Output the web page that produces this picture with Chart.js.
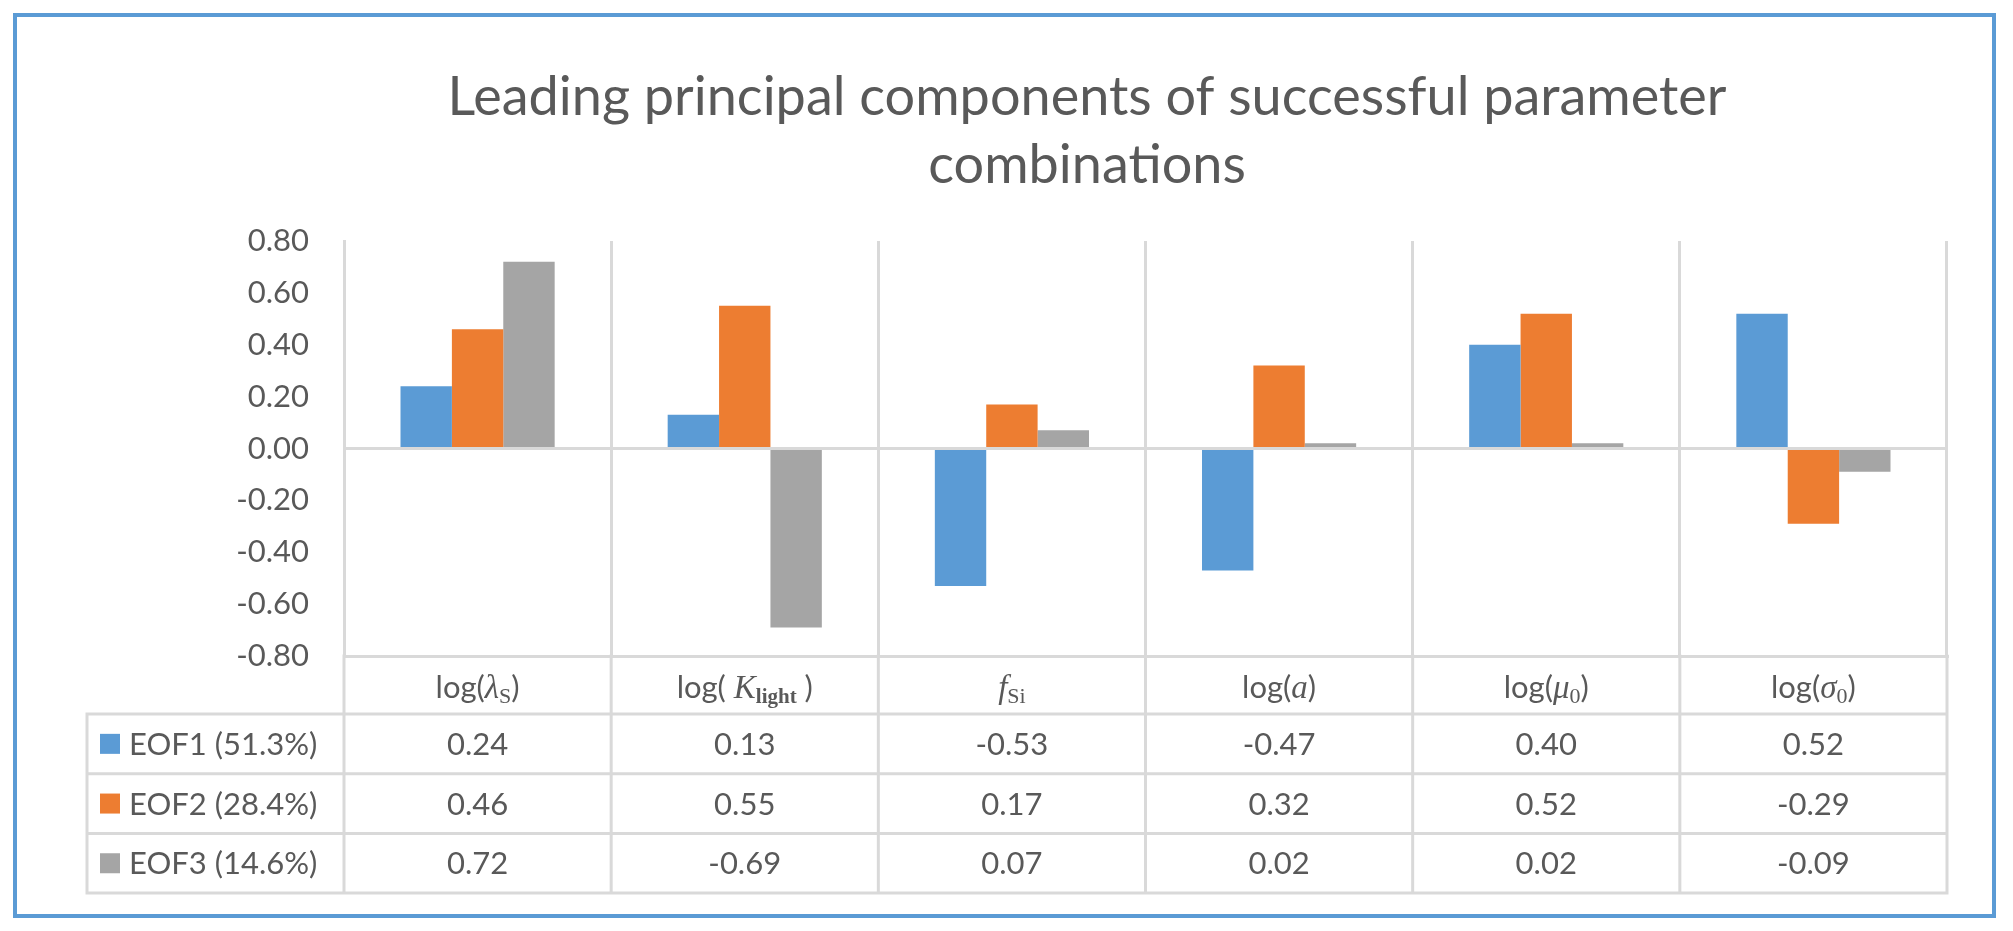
<!DOCTYPE html>
<html>
<head>
<meta charset="utf-8">
<title>Leading principal components of successful parameter combinations</title>
<script src="https://cdn.jsdelivr.net/npm/chart.js@4.4.0/dist/chart.umd.min.js"></script>
<style>
    html, body { margin: 0; padding: 0; background: #fff; }
    #wrap { position: relative; width: 2013px; height: 931px; }
    #frame { position: absolute; left: 13px; top: 13px; width: 1983px; height: 905px;
             box-sizing: border-box; border: 4px solid #5B9BD5; pointer-events: none; }
</style>
</head>
<body>
<div id="wrap">
    <canvas id="pcChart" width="2013" height="931"></canvas>
    <div id="frame"></div>
</div>
<script>
// Parametros (categorias) y cargas de cada EOF
const categories = ['log(λS)', 'log(Klight)', 'fSi', 'log(a)', 'log(μ0)', 'log(σ0)'];
const seriesNames = ['EOF1 (51.3%)', 'EOF2 (28.4%)', 'EOF3 (14.6%)'];
const eof1 = [0.24, 0.13, -0.53, -0.47, 0.40, 0.52];
const eof2 = [0.46, 0.55, 0.17, 0.32, 0.52, -0.29];
const eof3 = [0.72, -0.69, 0.07, 0.02, 0.02, -0.09];
const yMin = -0.8, yMax = 0.8, yStep = 0.2;
const titleLines = ['Leading principal components of successful parameter', 'combinations'];

// Piezas de cada etiqueta de categoria: n = normal, i = cursiva, s = subindice
const labelParts = [
    [['log(', 'n'], ['λ', 'i'], ['S', 's'], [')', 'n']],
    [['log( ', 'n'], ['K', 'i'], ['light', 'sb'], [' )', 'n']],
    [['f', 'i'], ['Si', 's']],
    [['log(', 'n'], ['a', 'i'], [')', 'n']],
    [['log(', 'n'], ['μ', 'i'], ['0', 's'], [')', 'n']],
    [['log(', 'n'], ['σ', 'i'], ['0', 's'], [')', 'n']]
];

const colors = ['#5B9BD5', '#ED7D31', '#A5A5A5'];
const TEXT = '#595959';
const LINE = '#D9D9D9';
const fonts = {
    n: '31px Lato',
    i: 'italic 33px "Liberation Serif"',
    s: '22px "Liberation Serif"',
    sb: 'bold 21px "Liberation Serif"'
};

// Plugin: titulo y tabla de datos debajo del grafico
const dataTable = {
    id: 'dataTable',
    afterDraw(chart) {
        const { ctx, chartArea: ca, scales: { x } } = chart;
        const half = (x.getPixelForValue(1) - x.getPixelForValue(0)) / 2;
        const edges = categories.map((c, i) => x.getPixelForValue(i) - half);
        edges.push(x.getPixelForValue(categories.length - 1) + half);

        const top = ca.bottom;
        const headB = top + 58;
        const rowH = 59.7;
        const bottom = headB + rowH * seriesNames.length;
        const legL = 87;

        ctx.save();
        ctx.strokeStyle = LINE;
        ctx.lineWidth = 3;
        ctx.lineCap = 'square';
        ctx.beginPath();
        edges.forEach(ex => { ctx.moveTo(ex, top); ctx.lineTo(ex, bottom); });
        ctx.moveTo(legL, headB); ctx.lineTo(legL, bottom);
        for (let r = 0; r <= seriesNames.length; r++) {
            const yy = headB + r * rowH;
            ctx.moveTo(legL, yy); ctx.lineTo(ca.right, yy);
        }
        ctx.stroke();

        // etiquetas de categoria
        ctx.fillStyle = TEXT;
        ctx.textBaseline = 'alphabetic';
        ctx.textAlign = 'left';
        const base = top + 42;
        labelParts.forEach((parts, i) => {
            let w = 0;
            parts.forEach(p => { ctx.font = fonts[p[1]]; w += ctx.measureText(p[0]).width; });
            let cx = x.getPixelForValue(i) - w / 2;
            parts.forEach(p => {
                ctx.font = fonts[p[1]];
                const dy = (p[1] === 's' || p[1] === 'sb') ? 5 : 0;
                ctx.fillText(p[0], cx, base + dy);
                cx += ctx.measureText(p[0]).width;
            });
        });

        // filas de valores con clave de leyenda
        const series = [eof1, eof2, eof3];
        ctx.textBaseline = 'middle';
        ctx.font = fonts.n;
        series.forEach((vals, r) => {
            const cy = headB + r * rowH + rowH / 2;
            ctx.fillStyle = colors[r];
            ctx.fillRect(100, cy - 10, 20, 20);
            ctx.fillStyle = TEXT;
            ctx.textAlign = 'left';
            ctx.fillText(seriesNames[r], 129, cy + 1);
            ctx.textAlign = 'center';
            vals.forEach((v, i) => ctx.fillText(v.toFixed(2), x.getPixelForValue(i), cy + 1));
        });

        // titulo (ancho ajustado al de la figura original, ~1280 px)
        ctx.font = '50px Lato';
        const size = Math.round(50 * 1279 / ctx.measureText(titleLines[0]).width);
        ctx.font = size + 'px Lato';
        ctx.textAlign = 'center';
        ctx.textBaseline = 'alphabetic';
        ctx.fillText(titleLines[0], 1087, 115);
        ctx.fillText(titleLines[1], 1087, 183);
        ctx.restore();
    }
};

const chartCtx = document.getElementById('pcChart').getContext('2d');
new Chart(chartCtx, {
    type: 'bar',
    data: {
        labels: categories,
        datasets: [
            { label: seriesNames[0], data: eof1, backgroundColor: colors[0] },
            { label: seriesNames[1], data: eof2, backgroundColor: colors[1] },
            { label: seriesNames[2], data: eof3, backgroundColor: colors[2] }
        ]
    },
    options: {
        responsive: false,
        animation: false,
        devicePixelRatio: 1,
        layout: { padding: { top: 241, left: 87, right: 66, bottom: 38 } },
        datasets: { bar: { barPercentage: 1, categoryPercentage: 0.577 } },
        plugins: {
            legend: { display: false },
            tooltip: { enabled: false },
            title: { display: false }
        },
        scales: {
            x: {
                offset: true,
                grid: { offset: true, color: LINE, lineWidth: 3, drawTicks: false },
                border: { color: LINE, width: 3 },
                ticks: { display: false },
                afterFit: s => { s.height = 237; }
            },
            y: {
                min: yMin,
                max: yMax,
                ticks: {
                    stepSize: yStep,
                    padding: 35,
                    color: TEXT,
                    font: { family: 'Lato', size: 31 },
                    callback: v => v.toFixed(2)
                },
                grid: {
                    drawTicks: false,
                    lineWidth: 3,
                    color: c => (c.tick && Math.abs(c.tick.value) < 1e-9) ? LINE : 'rgba(0,0,0,0)'
                },
                border: { color: LINE, width: 3 },
                afterFit: s => { s.width = 257; }
            }
        }
    },
    plugins: [dataTable]
});
</script>
</body>
</html>
